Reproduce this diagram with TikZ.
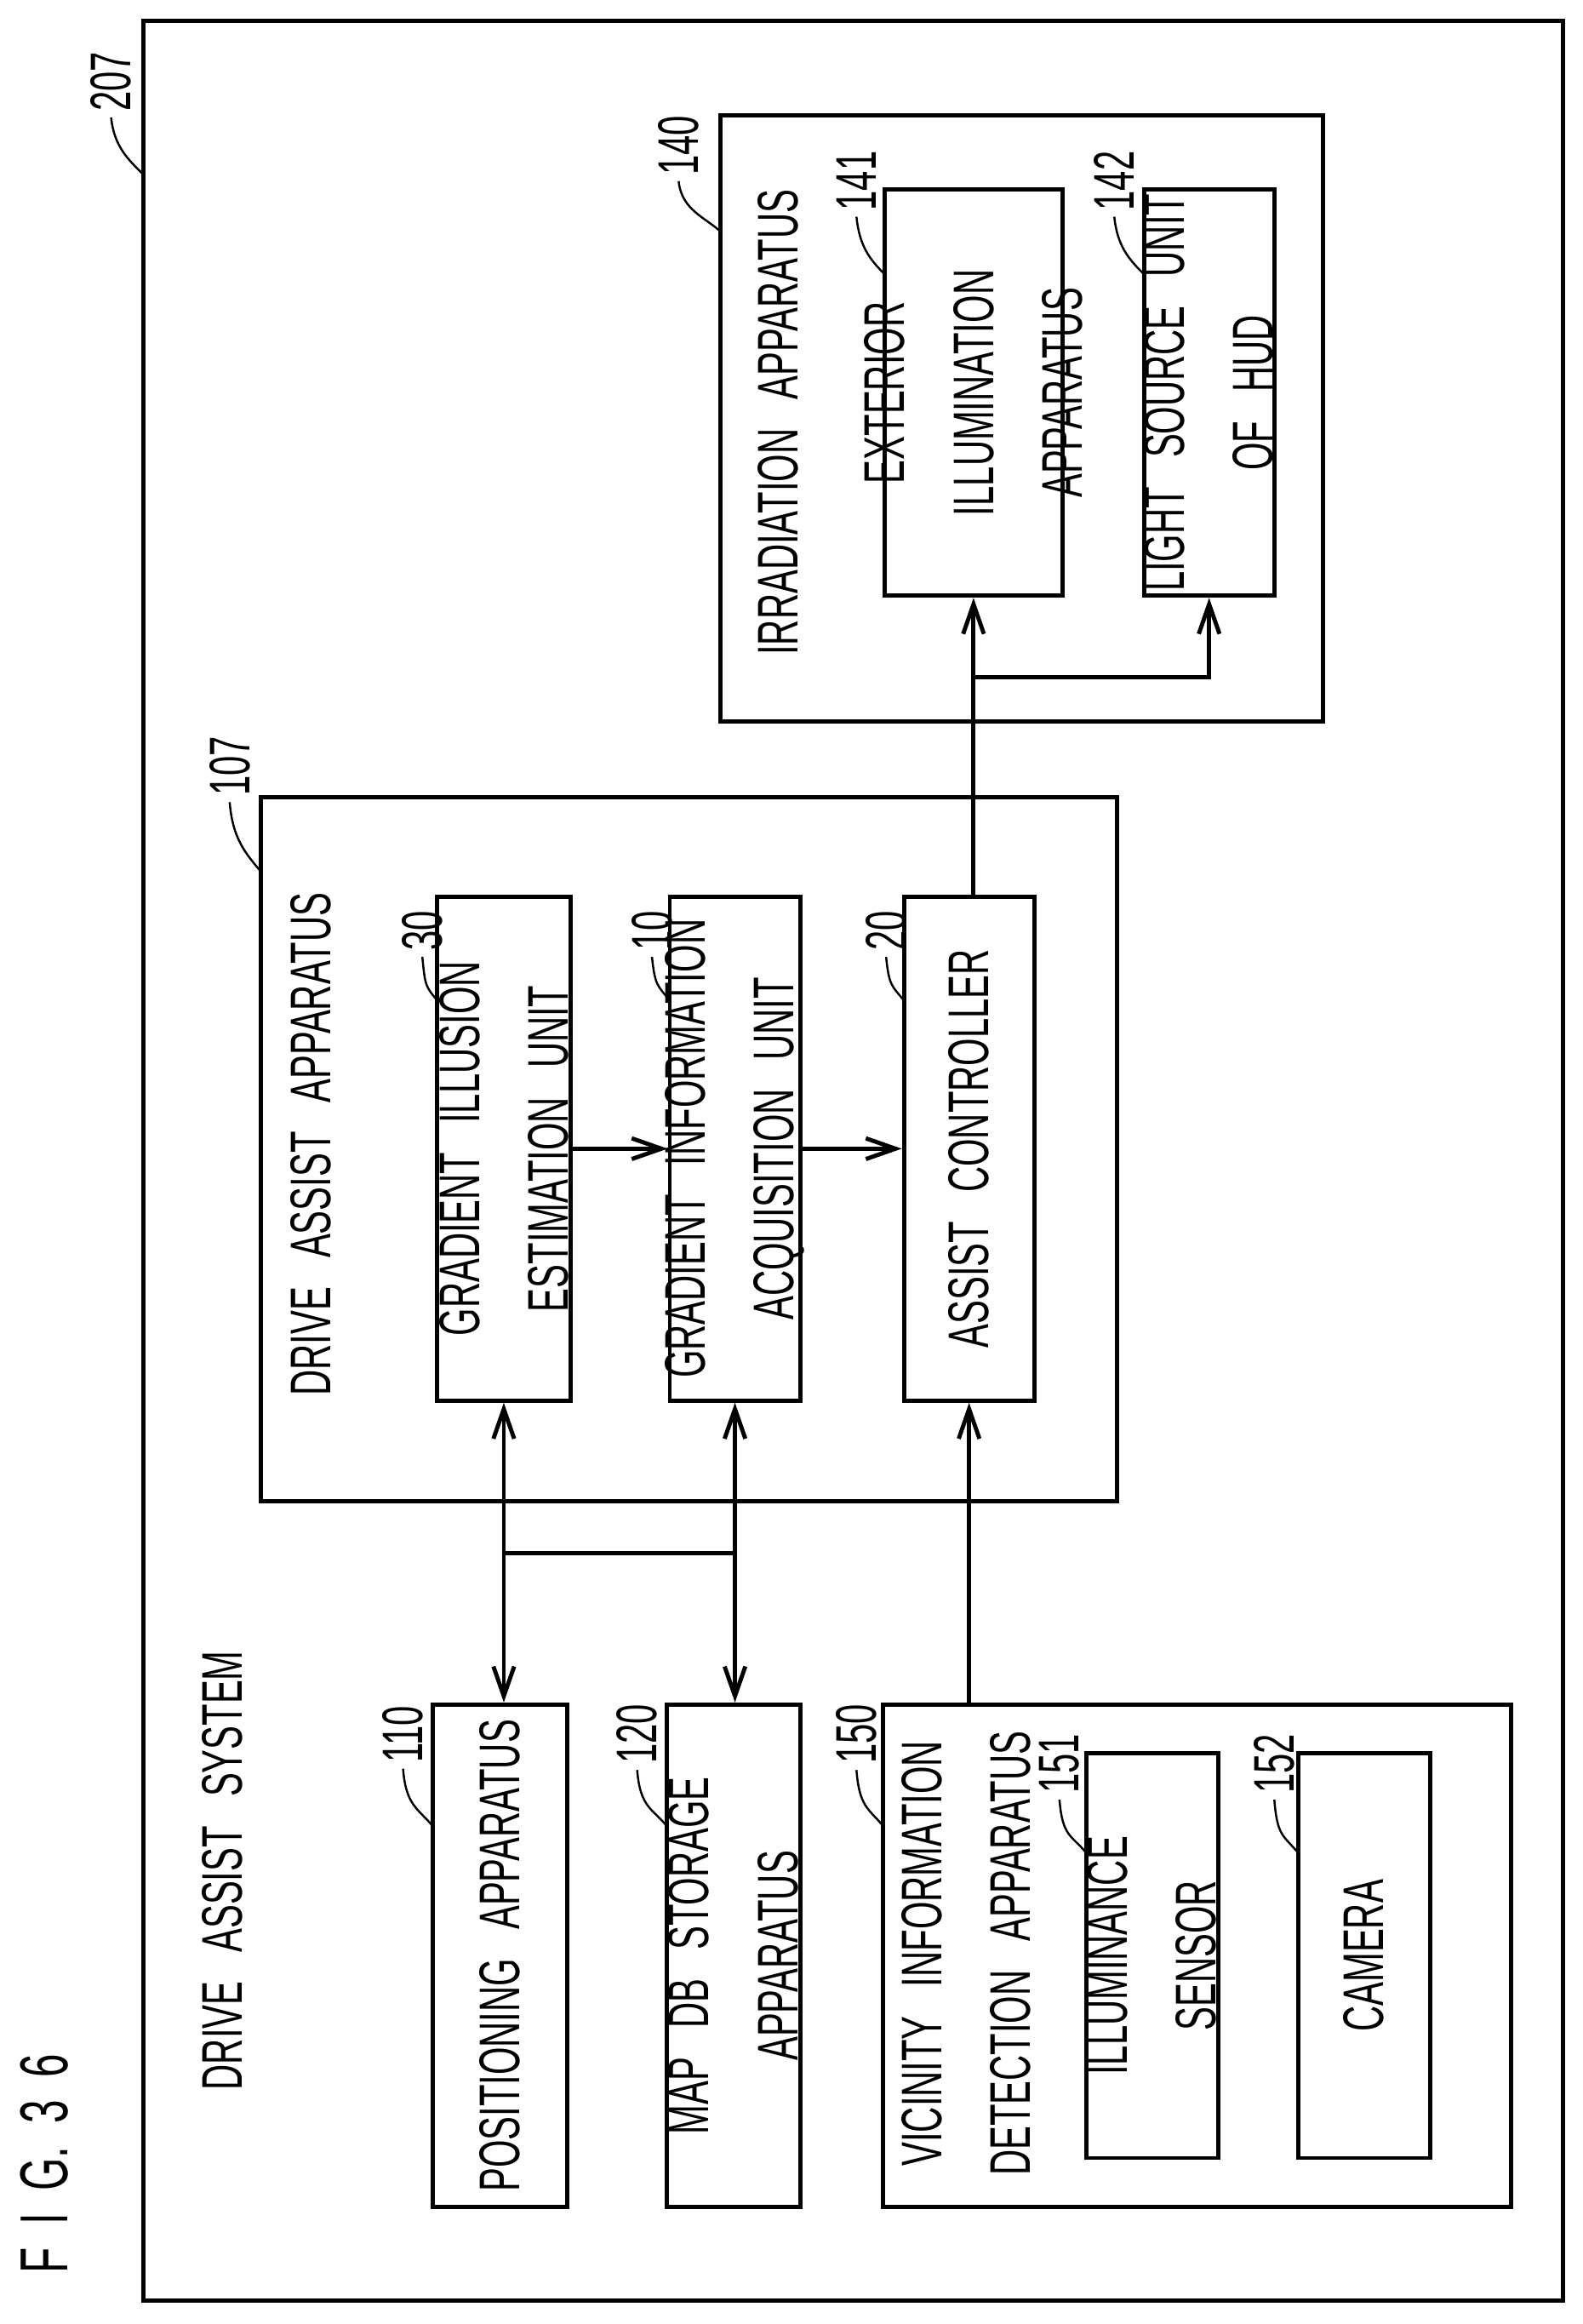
\documentclass[tikz,border=0pt]{standalone}
\usepackage{fontspec}
\setmainfont{Liberation Sans}[FakeStretch=0.62]
\usetikzlibrary{arrows.meta}
\begin{document}
\begin{tikzpicture}[x=0.01cm,y=-0.01cm,
  box/.style={draw,line width=0.8pt,inner sep=0pt},
  txt/.style={rotate=90,align=center,font=\fontsize{11}{17}\selectfont,inner sep=0pt},
  lab/.style={rotate=90,font=\fontsize{11}{13}\selectfont,inner sep=1pt},
  lead/.style={line width=0.4pt},
  arr/.style={line width=0.8pt,-{Straight Barb[length=2mm,width=1.4mm]}},
  darr/.style={line width=0.8pt,{Straight Barb[length=2mm,width=1.4mm]}-{Straight Barb[length=2mm,width=1.4mm]}},
  ln/.style={line width=0.8pt}]
\useasboundingbox (0,0) rectangle (1068,1568);
% frame
\node[box,minimum width=958*0.01cm,minimum height=1538*0.01cm] (frame) at (576,783) {};
\node[lab] (l207) at (75,55) {207};
\draw[lead] (l207.west) .. controls +(2,20) and +(-10,-10) .. (97,118);
\node[txt,font=\fontsize{13}{15}\selectfont] (fig) at (30,1460) {F\,\,I\,\,G.\,\,3\,\,6};
\node[txt] (das) at (150,1262) {DRIVE\,\, ASSIST\,\, SYSTEM};
% irradiation
\node[box,minimum width=407*0.01cm,minimum height=409*0.01cm] (irr) at (689.5,282.5) {};
\node[txt] (irrt) at (525,285) {IRRADIATION\,\, APPARATUS};
\node[lab] (l140) at (458,98) {140};
\draw[lead] (l140.west) .. controls +(2,20) and +(-10,-10) .. (487,157);
\node[box,minimum width=120*0.01cm,minimum height=274*0.01cm] (ext) at (657,265) {};
\node[txt] (extt) at (ext) {EXTERIOR\\ILLUMINATION\\APPARATUS};
\node[lab] (l141) at (578,122) {141};
\draw[lead] (l141.west) .. controls +(2,20) and +(-10,-10) .. (597,185);
\node[box,minimum width=88*0.01cm,minimum height=274*0.01cm] (ls) at (816,265) {};
\node[txt] (lst) at (ls) {LIGHT\,\, SOURCE\,\, UNIT\\OF\,\, HUD};
\node[lab] (l142) at (752,122) {142};
\draw[lead] (l142.west) .. controls +(2,20) and +(-10,-10) .. (772,185);
% drive assist apparatus
\node[box,minimum width=578*0.01cm,minimum height=475*0.01cm] (dap) at (465,775.5) {};
\node[txt] (dapt) at (210,772) {DRIVE\,\, ASSIST\,\, APPARATUS};
\node[lab] (l107) at (155,517) {107};
\draw[lead] (l107.west) .. controls +(2,25) and +(-10,-12) .. (176,588);
\node[box,minimum width=90*0.01cm,minimum height=340*0.01cm] (gi) at (340,775) {};
\node[txt] (git) at (gi) {GRADIENT\,\, ILLUSION\\ESTIMATION\,\, UNIT};
\node[lab] (l30) at (285,628) {30};
\draw[lead] (l30.west) .. controls +(2,20) and +(-8,-10) .. (295,675);
\node[box,minimum width=88*0.01cm,minimum height=340*0.01cm] (gia) at (496,775) {};
\node[txt] (giat) at (gia) {GRADIENT\,\, INFORMATION\\ACQUISITION\,\, UNIT};
\node[lab] (l10) at (440,628) {10};
\draw[lead] (l10.west) .. controls +(2,20) and +(-8,-10) .. (452,675);
\node[box,minimum width=88*0.01cm,minimum height=340*0.01cm] (ac) at (654,775) {};
\node[txt] (act) at (ac) {ASSIST\,\, CONTROLLER};
\node[lab] (l20) at (598,628) {20};
\draw[lead] (l20.west) .. controls +(2,20) and +(-8,-10) .. (610,675);
% bottom boxes
\node[box,minimum width=91*0.01cm,minimum height=339*0.01cm] (pos) at (337.5,1319.5) {};
\node[txt] (post) at (pos) {POSITIONING\,\, APPARATUS};
\node[lab] (l110) at (272,1170) {110};
\draw[lead] (l110.west) .. controls +(2,25) and +(-10,-12) .. (292,1232);
\node[box,minimum width=90*0.01cm,minimum height=339*0.01cm] (map) at (495,1319.5) {};
\node[txt] (mapt) at (map) {MAP\,\, DB\,\, STORAGE\\APPARATUS};
\node[lab] (l120) at (430,1170) {120};
\draw[lead] (l120.west) .. controls +(2,25) and +(-10,-12) .. (450,1232);
\node[box,minimum width=424*0.01cm,minimum height=339*0.01cm] (vic) at (808,1319.5) {};
\node[txt] (vict) at (652,1318) {VICINITY\,\, INFORMATION\\DETECTION\,\, APPARATUS};
\node[lab] (l150) at (578,1170) {150};
\draw[lead] (l150.west) .. controls +(2,25) and +(-10,-12) .. (596,1232);
\node[box,minimum width=89*0.01cm,minimum height=273*0.01cm] (ill) at (777.5,1319.5) {};
\node[txt] (illt) at (ill) {ILLUMINANCE\\SENSOR};
\node[lab] (l151) at (715,1190) {151};
\draw[lead] (l151.west) .. controls +(2,25) and +(-10,-12) .. (733,1250);
\node[box,minimum width=89*0.01cm,minimum height=273*0.01cm] (cam) at (920.5,1319.5) {};
\node[txt] (camt) at (cam) {CAMERA};
\node[lab] (l152) at (860,1190) {152};
\draw[lead] (l152.west) .. controls +(2,25) and +(-10,-12) .. (876,1250);
% connectors
\draw[arr] (gi.east) -- (gia.west);
\draw[arr] (gia.east) -- (ac.west);
\draw[arr] (ac.north -| ext.south) -- (ext.south);
\coordinate (br) at (657,457);
\draw[ln] (br) -| (816,440);
\draw[arr] (816,440) -- (ls.south);
\draw[darr] (gi.south) -- (gi.south |- pos.north);
\draw[darr] (gia.south) -- (gia.south |- map.north);
\draw[ln] (340,1048) -- (496,1048);
\draw[arr] (vic.north -| ac.south) -- (ac.south);
\end{tikzpicture}
\end{document}
